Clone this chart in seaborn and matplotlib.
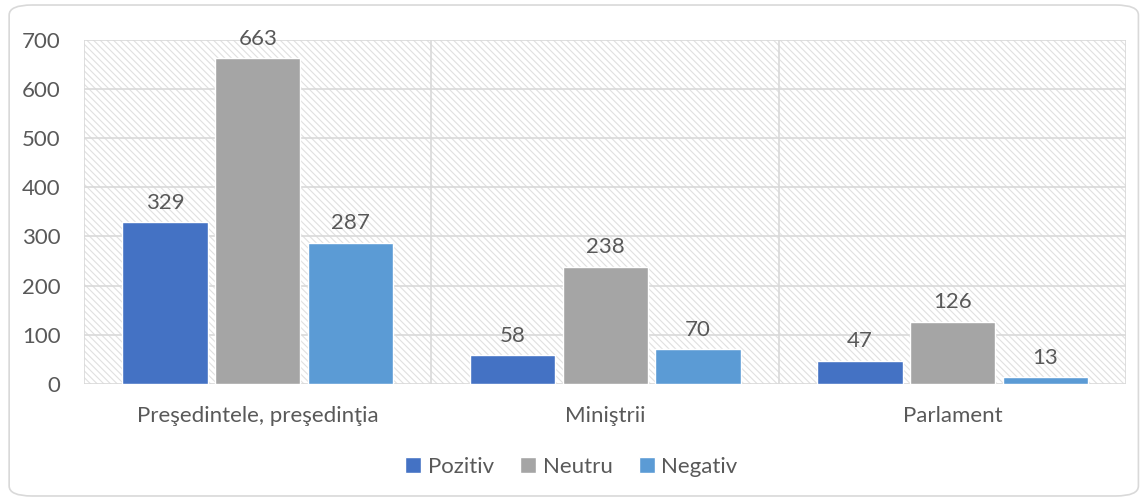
import matplotlib.pyplot as plt
import pandas as pd
import seaborn as sns
from matplotlib.patches import FancyBboxPatch, Rectangle

categories = ["Preşedintele, preşedinţia", "Miniştrii", "Parlament"]
series = ["Pozitiv", "Neutru", "Negativ"]
pozitiv = [329, 58, 47]
neutru = [663, 238, 126]
negativ = [287, 70, 13]
colors = ["#4472C4", "#A5A5A5", "#5B9BD5"]
yticks = [0, 100, 200, 300, 400, 500, 600, 700]

df = pd.DataFrame({
    "categorie": categories * 3,
    "serie": [s for s in series for _ in categories],
    "valoare": pozitiv + neutru + negativ,
})

sns.set_theme(style="white")
plt.rcParams["font.family"] = ["Lato", "DejaVu Sans"]
plt.rcParams["hatch.linewidth"] = 0.8
plt.rcParams["hatch.color"] = "#e0e0e0"
TXT = "#595959"
GRID = "#d9d9d9"
FS = 16

fig = plt.figure(figsize=(11.43, 5.01), dpi=100)
ax = fig.add_axes([0.0735, 0.234, 0.912, 0.686])

# hatched plot-area background
ax.add_patch(Rectangle((0, 0), 1, 1, transform=ax.transAxes, facecolor="white",
                       edgecolor="#e0e0e0", hatch="\\" * 5, linewidth=0, zorder=0))

sns.barplot(data=df, x="categorie", y="valoare", hue="serie", palette=colors,
            hue_order=series, order=categories, width=0.8, gap=0.08,
            saturation=1, ax=ax, zorder=3, legend=True)

for cont in ax.containers:
    ax.bar_label(cont, padding=7, fontsize=FS, color=TXT)

ax.set_ylim(0, 700)
ax.set_xlim(-0.5, 2.5)
ax.set_yticks(yticks)
for y in yticks:
    ax.axhline(y, color=GRID, linewidth=1.2, zorder=1)
for x in [-0.5, 0.5, 1.5, 2.5]:
    ax.axvline(x, color=GRID, linewidth=1.2, zorder=1)

for s in ax.spines.values():
    s.set_visible(False)
ax.tick_params(axis="both", length=0, labelsize=FS, colors=TXT)
ax.tick_params(axis="x", pad=16)
ax.tick_params(axis="y", pad=17)
ax.set_xlabel("")
ax.set_ylabel("")

handles, labels = ax.get_legend_handles_labels()
ax.legend(handles, labels, loc="center", bbox_to_anchor=(0.5, 0.068),
          bbox_transform=fig.transFigure, ncol=3, frameon=False, fontsize=FS,
          handlelength=0.7, handleheight=0.7, handletextpad=0.3,
          columnspacing=1.2, labelcolor=TXT)

# rounded chart border
fig.patches.append(FancyBboxPatch((0.008, 0.01), 0.988, 0.98,
                                  boxstyle="round,pad=0,rounding_size=0.02",
                                  transform=fig.transFigure, facecolor="none",
                                  edgecolor="#d9d9d9", linewidth=1.2))

fig.savefig("out.png", dpi=100)
